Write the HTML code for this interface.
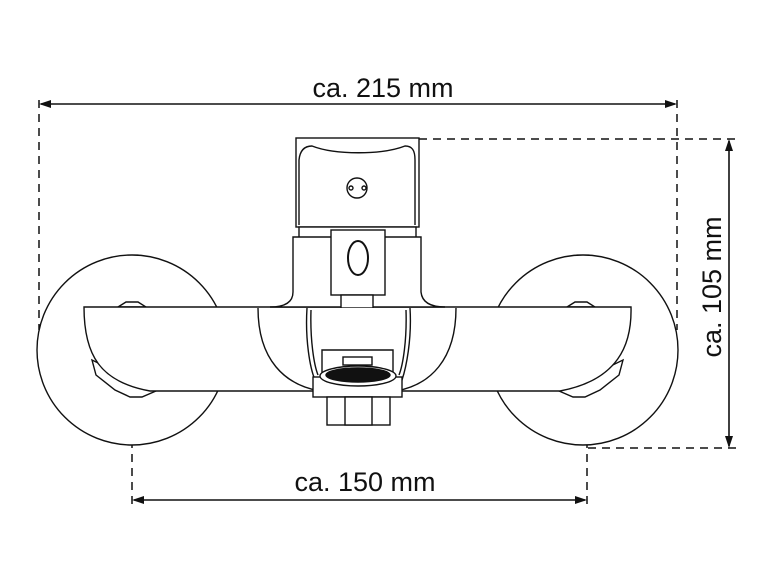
<!DOCTYPE html>
<html><head><meta charset="utf-8"><style>
html,body{margin:0;padding:0;background:#fff;width:772px;height:579px;overflow:hidden}
text{font-family:"Liberation Sans",sans-serif;font-size:27px;fill:#111}
</style></head><body>
<svg width="772" height="579" viewBox="0 0 772 579" xmlns="http://www.w3.org/2000/svg">
<g fill="none" stroke="#111" stroke-width="1.6">
<g stroke-dasharray="8,6" stroke-width="1.5">
<line x1="39" y1="100" x2="39" y2="330"/>
<line x1="677" y1="100" x2="677" y2="330"/>
<line x1="419" y1="139" x2="740" y2="139"/>
<line x1="588" y1="448" x2="740" y2="448"/>
<line x1="132" y1="398" x2="132" y2="508"/>
<line x1="587" y1="398" x2="587" y2="508"/>
</g>
<line x1="41" y1="104" x2="675" y2="104"/>
<line x1="134" y1="500" x2="585" y2="500"/>
<line x1="729" y1="141" x2="729" y2="446"/>
</g>
<g fill="#111">
<polygon points="39,104 51,100 51,108"/>
<polygon points="677,104 665,100 665,108"/>
<polygon points="132,500 144,496 144,504"/>
<polygon points="587,500 575,496 575,504"/>
<polygon points="729,139 725,151 733,151"/>
<polygon points="729,448 725,436 733,436"/>
</g>
<text x="383" y="97" text-anchor="middle">ca. 215 mm</text>
<text x="365" y="491" text-anchor="middle">ca. 150 mm</text>
<text transform="translate(721,287) rotate(-90)" text-anchor="middle">ca. 105 mm</text>

<g fill="#fff" stroke="#111" stroke-width="1.4">
<circle cx="132" cy="350" r="95"/>
<circle cx="583" cy="350" r="95"/>
<path d="M118,307 L126,302 L138,302 L146,307 Z"/>
<path d="M567,307 L575,302 L587,302 L595,307 Z"/>
<path d="M92,360 L96,375 L115,390 L130,397 L142,397 L156,391 Z"/>
<path d="M623,360 L619,375 L600,390 L585,397 L573,397 L559,391 Z"/>
<path d="M84,307 L631,307 C632,345 618,380 560,391 L150,391 C100,382 84,355 84,307 Z"/>
<rect x="296" y="138" width="123" height="89"/>
<path d="M299,225 L299,160 C300,150 305,146 312,146 C335,155 382,155 405,146 C412,146 415,150 415,160 L415,225"/>
<rect x="299" y="227" width="117" height="11"/>
<circle cx="357" cy="188" r="10"/>
<circle cx="351" cy="188" r="2"/>
<circle cx="364" cy="188" r="2"/>
<path d="M293,237 L421,237 L421,292 C422,302 430,307 445,307 L270,307 C285,307 293,302 293,292 Z"/>
<rect x="331" y="230" width="54" height="65"/>
<ellipse cx="358" cy="258" rx="10" ry="17" stroke-width="2"/>
<rect x="341" y="295" width="32" height="13"/>
<path d="M258,308 C258,360 285,385 320,391" fill="none"/>
<path d="M456,308 C456,360 430,385 396,391" fill="none"/>
<path d="M307,308 C305,340 310,368 315,380 L402,380 C406,368 412,340 410,308" fill="#fff"/>
<path d="M311,310 C310,340 314,365 318,375 M406,310 C407,340 403,365 399,375" fill="none"/>
<rect x="313" y="377" width="89" height="20"/>
<path d="M322,350 L393,350 L393,378 L322,378 Z"/>
<rect x="343" y="357" width="29" height="8"/>
<ellipse cx="358" cy="376" rx="38" ry="10"/>
<ellipse cx="358" cy="375" rx="32" ry="7" fill="#111"/>
<rect x="327" y="397" width="63" height="28"/>
<rect x="345" y="397" width="27" height="28"/>
</g>
</svg>
</body></html>
